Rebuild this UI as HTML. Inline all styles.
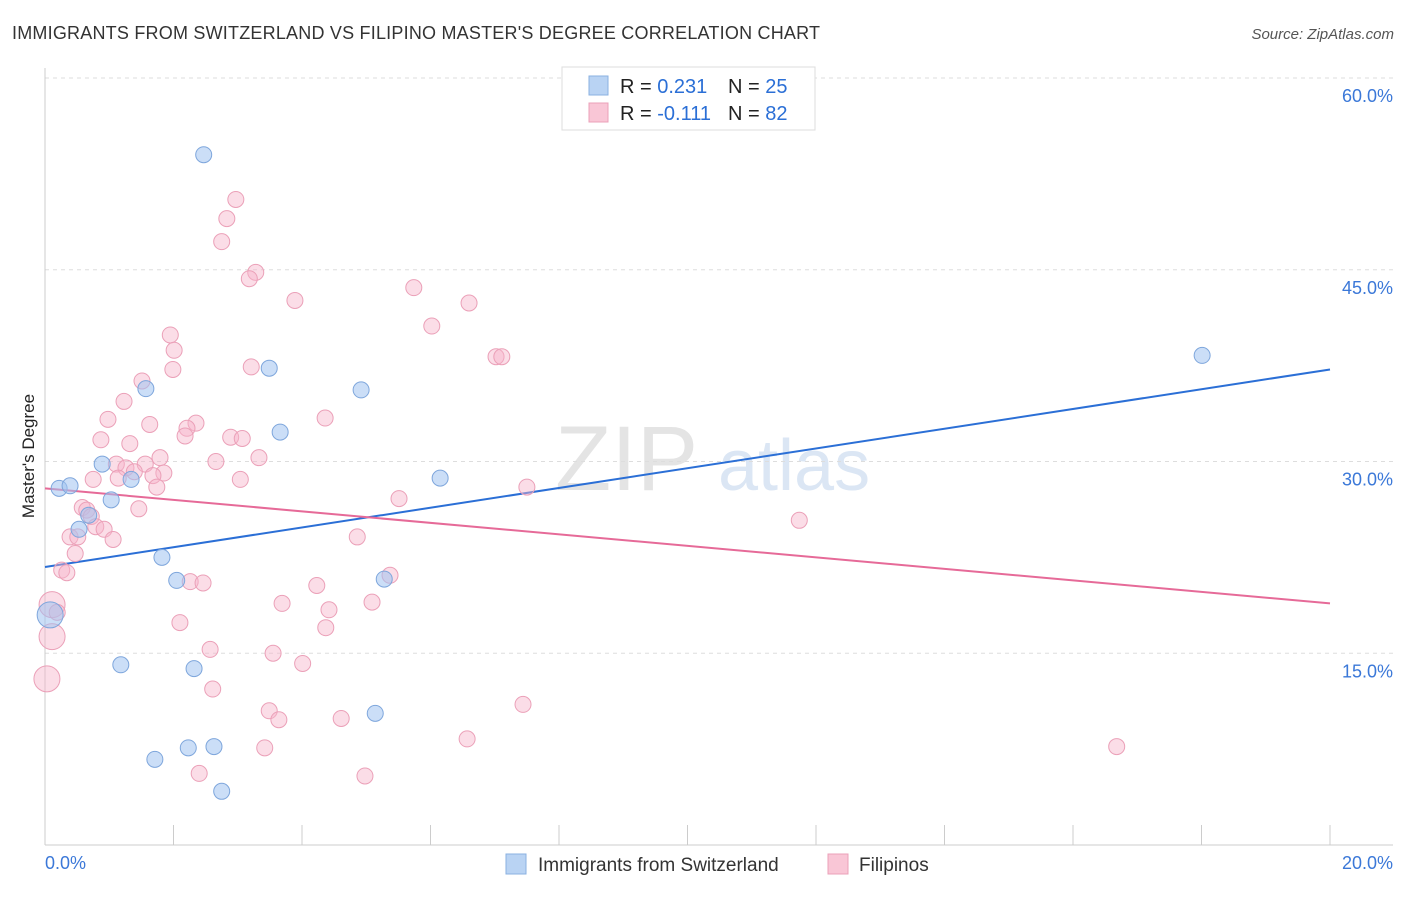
<!DOCTYPE html>
<html><head><meta charset="utf-8"><style>
body{margin:0;background:#fff;font-family:"Liberation Sans",sans-serif;}
svg text{font-family:"Liberation Sans",sans-serif;}
</style></head><body>
<svg id="c" width="1406" height="892">
<text x="12" y="39" font-size="18" fill="#333" textLength="808">IMMIGRANTS FROM SWITZERLAND VS FILIPINO MASTER'S DEGREE CORRELATION CHART</text>
<text x="1394" y="39" font-size="15" fill="#555" font-style="italic" text-anchor="end">Source: ZipAtlas.com</text>
<text x="34" y="456" font-size="17" fill="#222" text-anchor="middle" transform="rotate(-90 34 456)">Master's Degree</text>
<g><text x="555" y="490" font-size="92" fill="#e4e4e4" font-family="Liberation Serif">ZIP</text><text x="718" y="490" font-size="72" fill="#dbe6f4">atlas</text></g>
<g id="grid"></g><g id="axes"></g><g id="lines"></g><g id="pts"></g>
<g>
<rect x="562" y="67" width="253" height="63" fill="#fff" stroke="#ddd"/>
<rect x="589" y="76" width="19" height="19" fill="#b9d3f3" stroke="#8ab0e0"/>
<text x="620" y="93" font-size="20" fill="#222">R = <tspan fill="#2b6fd6">0.231</tspan></text>
<text x="728" y="93" font-size="20" fill="#222">N = <tspan fill="#2b6fd6">25</tspan></text>
<rect x="589" y="103" width="19" height="19" fill="#f9c6d6" stroke="#eba0b8"/>
<text x="620" y="120" font-size="20" fill="#222">R = <tspan fill="#2b6fd6">-0.111</tspan></text>
<text x="728" y="120" font-size="20" fill="#222">N = <tspan fill="#2b6fd6">82</tspan></text>
</g>
<g>
<rect x="506" y="854" width="20" height="20" fill="#b9d3f3" stroke="#8ab0e0"/>
<text x="538" y="871" font-size="19" fill="#333">Immigrants from Switzerland</text>
<rect x="828" y="854" width="20" height="20" fill="#f9c6d6" stroke="#eba0b8"/>
<text x="859" y="871" font-size="19" fill="#333">Filipinos</text>
</g>
</svg>
<script>
const blueX=[2.47,18.01,3.49,1.57,4.92,3.66,0.89,6.15,1.34,0.22,0.39,1.03,0.68,0.53,1.82,2.05,5.28,0.08,1.18,2.32,5.14,2.23,2.63,1.71,2.75];
const blueY=[54.0,38.3,37.3,35.7,35.6,32.3,29.8,28.7,28.6,27.9,28.1,27.0,25.8,24.7,22.5,20.7,20.8,18.0,14.1,13.8,10.3,7.6,7.7,6.7,4.2];
const pinkX=[2.97,2.83,2.75,3.28,3.18,5.74,3.89,6.60,6.02,1.95,2.01,7.02,7.11,3.21,1.99,1.51,1.23,0.98,4.36,1.63,2.35,2.21,2.18,2.89,3.07,0.87,1.32,3.33,1.79,2.66,1.11,1.26,1.56,1.39,1.85,1.68,1.14,0.75,3.04,1.74,7.50,5.51,0.58,0.65,1.46,0.72,0.79,0.92,11.74,0.39,0.51,1.06,4.86,0.47,0.26,0.34,5.37,2.26,2.46,4.23,4.42,3.69,5.09,0.11,0.19,4.37,2.10,0.11,2.57,3.55,4.01,0.03,2.61,3.49,3.64,4.61,7.44,6.57,3.42,16.68,2.40,4.98];
const pinkY=[50.5,49.0,47.2,44.8,44.3,43.6,42.6,42.4,40.6,39.9,38.7,38.2,38.2,37.4,37.2,36.3,34.7,33.3,33.4,32.9,33.0,32.6,32.0,31.9,31.8,31.7,31.4,30.3,30.3,30.0,29.8,29.5,29.8,29.2,29.1,28.9,28.7,28.6,28.6,28.0,28.0,27.1,26.4,26.2,26.3,25.7,24.9,24.7,25.4,24.1,24.1,23.9,24.1,22.8,21.5,21.3,21.1,20.6,20.5,20.3,18.4,18.9,19.0,18.8,18.2,17.0,17.4,16.3,15.3,15.0,14.2,13.0,12.2,10.5,9.8,9.9,11.0,8.3,7.6,7.7,5.6,5.4];
const bigPink=[63,67,71];
const bigBlue=[17];
const blueTrend=[21.75,37.2];
const pinkTrend=[27.9,18.9];
const yTicks=[15,30,45,60];
const yTickLabels=["15.0%","30.0%","45.0%","60.0%"];
const xTicks=[0,2,4,6,8,10,12,14,16,18,20];
const X=v=>45+v*64.25, Y=v=>845-v*12.783;
const NS="http://www.w3.org/2000/svg";
function mk(p,t,a){const e=document.createElementNS(NS,t);for(const k in a)e.setAttribute(k,a[k]);document.getElementById(p).appendChild(e);return e;}
yTicks.forEach((t,i)=>{
 const l=mk('grid','line',{x1:45,x2:1393,y1:Y(t),y2:Y(t),stroke:'#ddd','stroke-dasharray':'4,4'});
 
 
 const tx=mk('grid','text',{x:1393,y:Y(t)+24,'font-size':18,fill:'#3b78d8','text-anchor':'end'});
 tx.textContent=yTickLabels[i];
 
 
});
let a=mk('axes','line',{x1:45,x2:45,y1:68,y2:845,stroke:'#ccc'});


a=mk('axes','line',{x1:45,x2:1393,y1:845,y2:845,stroke:'#ccc'});


xTicks.forEach(t=>{const l=mk('axes','line',{x1:X(t),x2:X(t),y1:825,y2:845,stroke:'#ccc'});
 
 });
let t0=mk('axes','text',{x:45,y:869,'font-size':18,fill:'#3b78d8'});t0.textContent="0.0%";


let t1=mk('axes','text',{x:1393,y:869,'font-size':18,fill:'#3b78d8','text-anchor':'end'});t1.textContent="20.0%";


pinkX.forEach((x,i)=>{const c=mk('pts','circle',{cx:X(x),cy:Y(pinkY[i]),r:bigPink.includes(i)?13:8,fill:'rgba(247,180,202,0.45)',stroke:'#eba0b8','stroke-width':1});
 
 });
blueX.forEach((x,i)=>{const c=mk('pts','circle',{cx:X(x),cy:Y(blueY[i]),r:bigBlue.includes(i)?13:8,fill:'rgba(160,195,240,0.55)',stroke:'#7ea6dc','stroke-width':1});
 
 });
let bl=mk('lines','line',{x1:X(0),x2:X(20),y1:Y(blueTrend[0]),y2:Y(blueTrend[1]),stroke:'#2b6fd6','stroke-width':2});


let pl=mk('lines','line',{x1:X(0),x2:X(20),y1:Y(pinkTrend[0]),y2:Y(pinkTrend[1]),stroke:'#e66a98','stroke-width':2});


</script>
</body></html>
